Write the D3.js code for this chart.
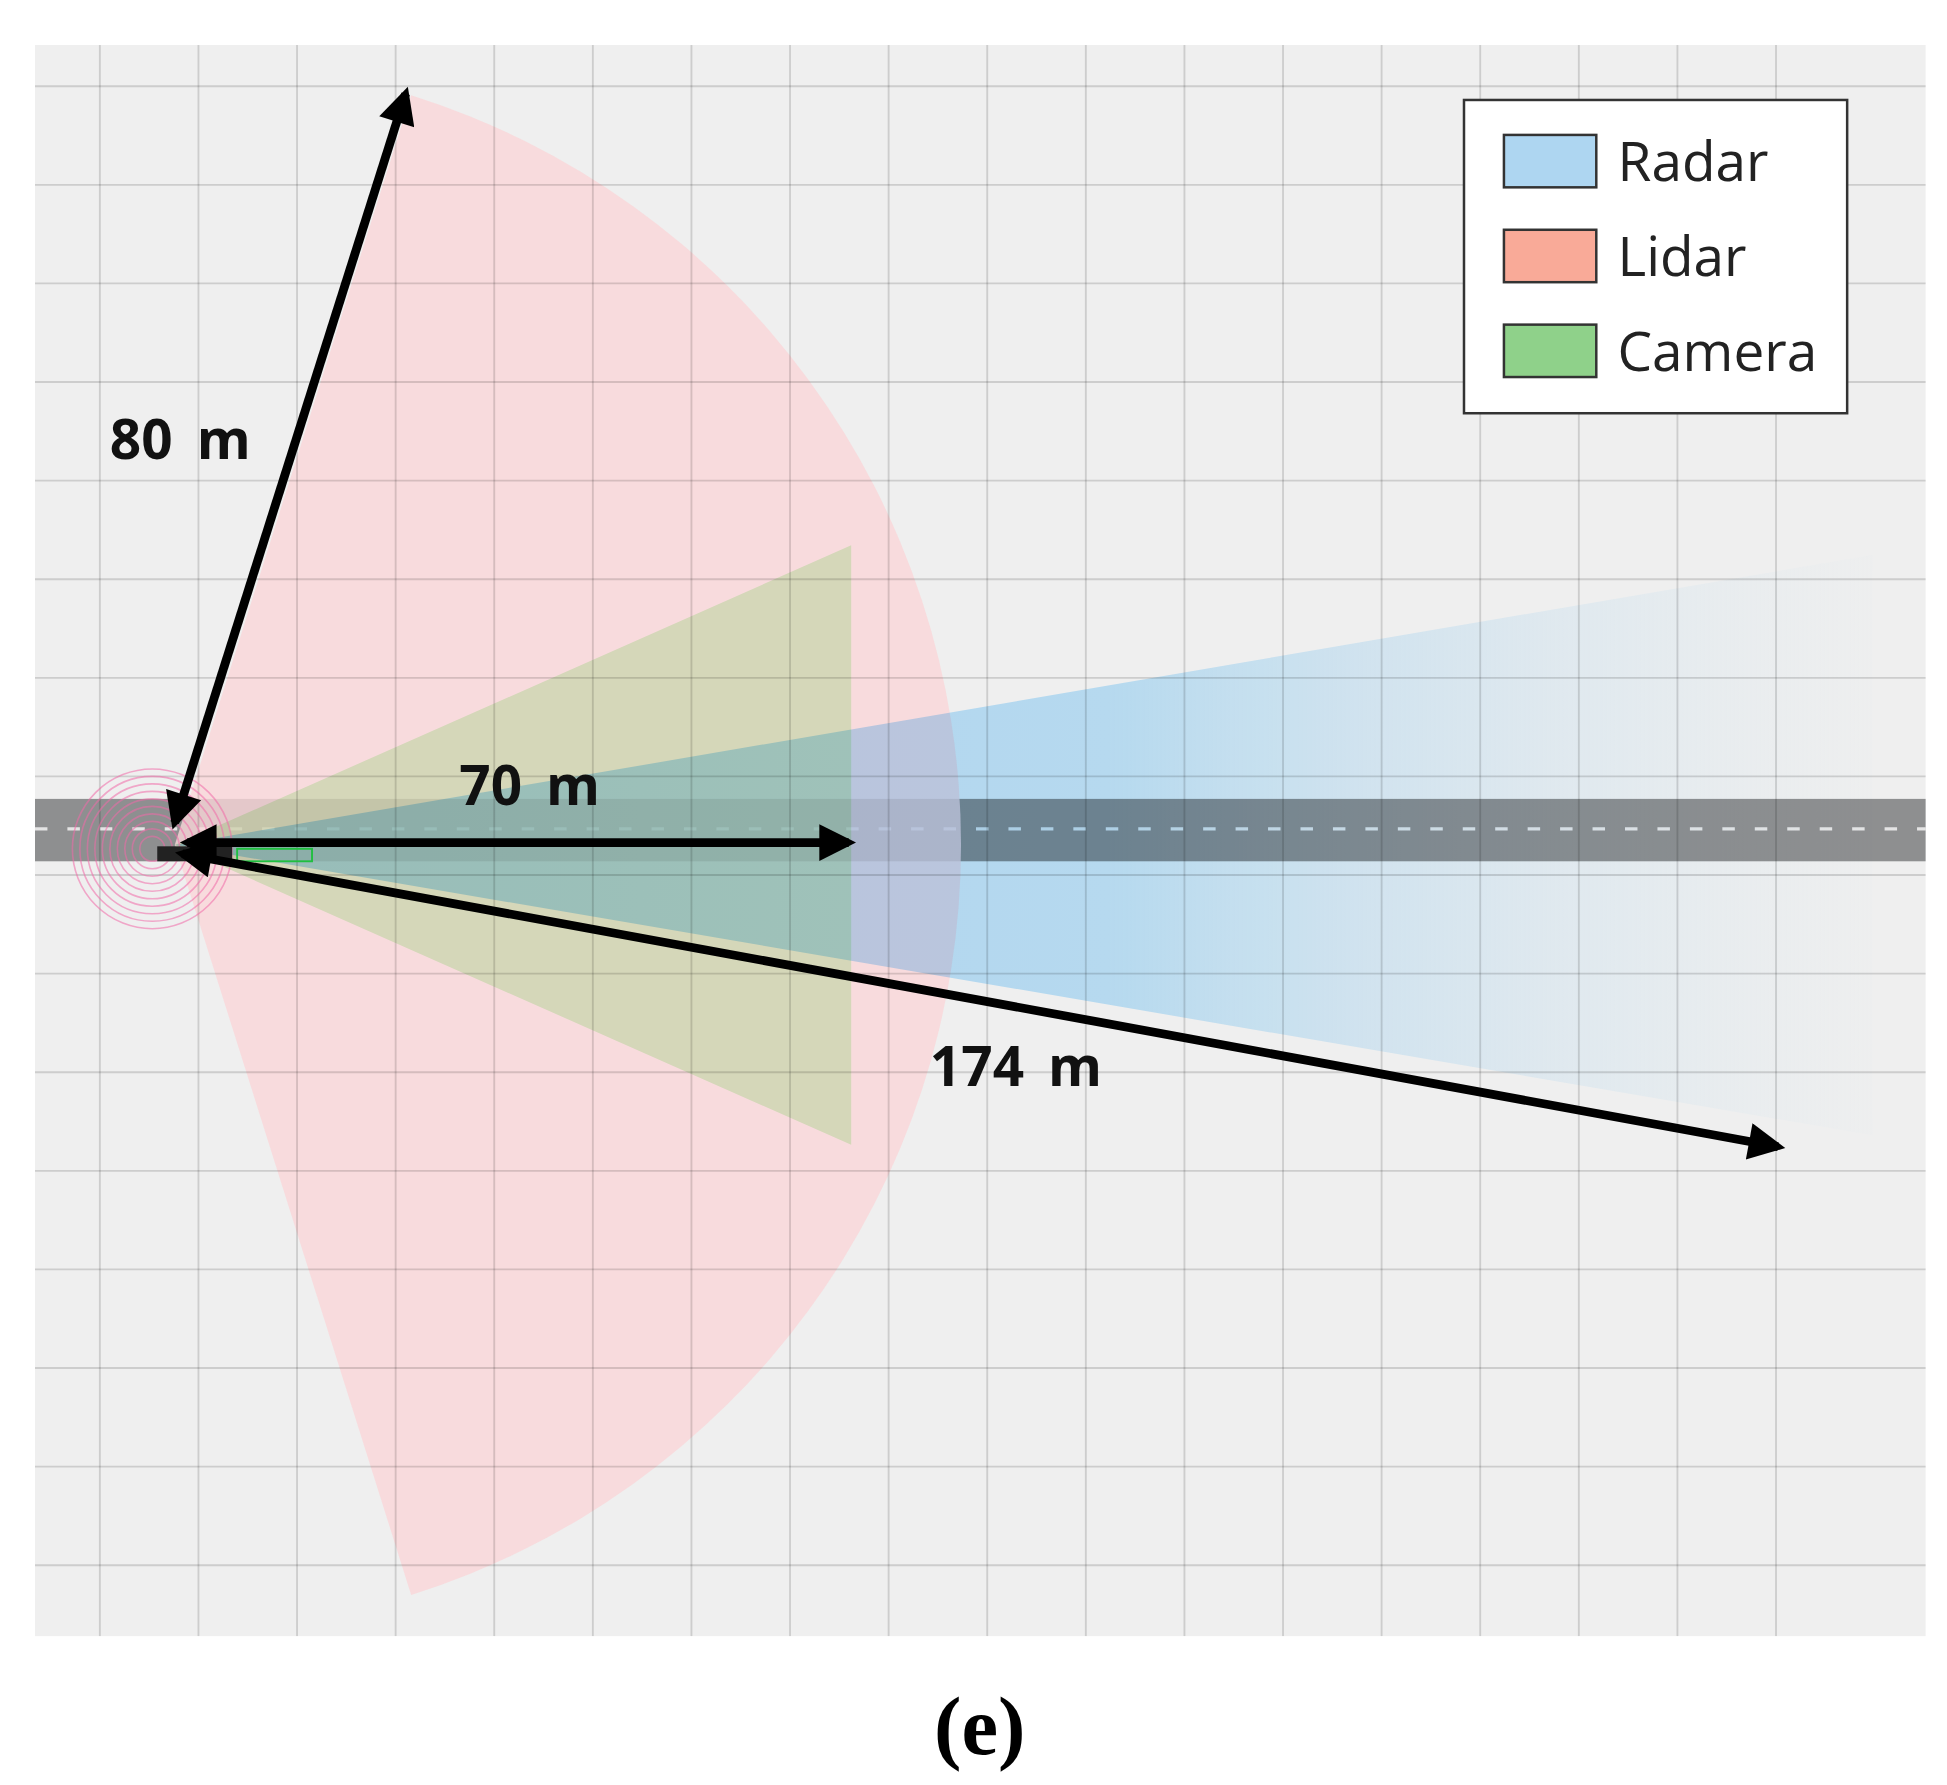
<!DOCTYPE html>
<html><head><meta charset="utf-8">
<script src="https://cdn.jsdelivr.net/npm/d3@7"></script>
<style>body{margin:0;background:#fff}</style>
</head><body>
<div id="chart"></div>
<script>
// sensor ranges (m) and half field of view (deg)
var sensors = ["Radar", "Lidar", "Camera"];
var colors = ["#aed6f1", "#f9aa98", "#8fd18a"];
var ranges = [174, 80, 70];
var halfFov = [9.7, 72.5, 23.9];
var labels = ["174 m", "80 m", "70 m"];
var arrowAngles = [-10.4, 72.9, 0];   // degrees, up positive

var W = 1560, H = 1430;
var svg = d3.select("#chart").append("svg")
  .attr("width", 1947).attr("height", 1785)
  .attr("viewBox", "0 0 " + W + " " + H);

var plot = {x0: 28, x1: 1543, y0: 36, y1: 1311};
var ox = 140, oy = 677;
var r = d3.scaleLinear().domain([0, 80]).range([0, 630]);

var defs = svg.append("defs");
var grad = defs.append("linearGradient").attr("id", "rg")
  .attr("gradientUnits", "userSpaceOnUse")
  .attr("x1", ox).attr("x2", 1500).attr("y1", 0).attr("y2", 0);
grad.append("stop").attr("offset", 0).attr("stop-color", "#b4e0ff").attr("stop-opacity", 1);
grad.append("stop").attr("offset", 0.55).attr("stop-color", "#c2e8ff").attr("stop-opacity", 1);
grad.append("stop").attr("offset", 1).attr("stop-color", "#fafdff").attr("stop-opacity", 0.3);
defs.append("clipPath").attr("id", "pc").append("rect")
  .attr("x", plot.x0).attr("y", plot.y0).attr("width", plot.x1 - plot.x0).attr("height", plot.y1 - plot.y0);
var mk = defs.append("marker").attr("id", "ah").attr("viewBox", "0 0 10 10")
  .attr("refX", 8).attr("refY", 5).attr("markerWidth", 5).attr("markerHeight", 4.2)
  .attr("orient", "auto-start-reverse").attr("markerUnits", "strokeWidth");
mk.append("path").attr("d", "M0,0L10,5L0,10z").attr("fill", "#000");

var g = svg.append("g").attr("clip-path", "url(#pc)").style("isolation", "isolate");
g.append("rect").attr("x", plot.x0).attr("y", plot.y0)
  .attr("width", plot.x1 - plot.x0).attr("height", plot.y1 - plot.y0).attr("fill", "#efefef");

// road
g.append("rect").attr("x", plot.x0).attr("y", 640).attr("width", plot.x1 - plot.x0).attr("height", 50).attr("fill", "#8e8f90");
g.append("line").attr("x1", plot.x0).attr("x2", plot.x1).attr("y1", 664).attr("y2", 664)
  .attr("stroke", "#e4e4e4").attr("stroke-width", 2.5).attr("stroke-dasharray", "10 16");

function rad(d) { return d * Math.PI / 180; }
// lidar sector
var lid = d3.arc().innerRadius(0).outerRadius(r(ranges[1]))
  .startAngle(rad(90 - halfFov[1])).endAngle(rad(90 + halfFov[1]));
g.append("path").attr("d", lid()).attr("transform", "translate(" + ox + "," + oy + ")")
  .attr("fill", "#fad6d8").attr("opacity", 0.8);
// camera triangle
var camL = 542, camH = camL * Math.tan(rad(halfFov[2]));
g.append("path").attr("d", d3.line()([[ox, oy], [ox + camL, oy - camH], [ox + camL, oy + camH]]))
  .attr("fill", "#dbfbd6").style("mix-blend-mode", "multiply");
// radar wedge
var radL = 1360;
g.append("path").attr("d", d3.line()([[ox, oy], [ox + radL, oy - radL * Math.tan(rad(halfFov[0]))], [ox + radL, oy + radL * Math.tan(rad(halfFov[0]))]]))
  .attr("fill", "url(#rg)").style("mix-blend-mode", "multiply");

// grid on top
var gx = d3.range(80, 1502, 79), gy = d3.range(69, 1300, 79);
g.selectAll(".vx").data(gx).enter().append("line")
  .attr("x1", d => d).attr("x2", d => d).attr("y1", plot.y0).attr("y2", plot.y1)
  .attr("stroke", "#000").attr("stroke-opacity", 0.14).attr("stroke-width", 1.5);
g.selectAll(".hy").data(gy).enter().append("line")
  .attr("y1", d => d).attr("y2", d => d).attr("x1", plot.x0).attr("x2", plot.x1)
  .attr("stroke", "#000").attr("stroke-opacity", 0.14).attr("stroke-width", 1.5);

// lidar rings
g.selectAll(".ring").data(d3.range(10, 70, 6)).enter().append("circle")
  .attr("cx", 122).attr("cy", 680).attr("r", d => d)
  .attr("fill", "none").attr("stroke", "#f06aa8").attr("stroke-opacity", 0.55).attr("stroke-width", 1.3);
g.append("rect").attr("x", 126).attr("y", 678).attr("width", 60).attr("height", 12).attr("fill", "#222");
g.append("rect").attr("x", 190).attr("y", 680).attr("width", 60).attr("height", 10).attr("fill", "none").attr("stroke", "#1fbf3f").attr("stroke-width", 1.5);

// arrows
var starts = [[146, 684], [140, 659], [150, 675]];
arrowAngles.forEach(function (a, i) {
  var L = i === 0 ? 1300 : r(ranges[i]);
  var s = starts[i];
  var ex = s[0] + L * Math.cos(rad(a)), ey = s[1] - L * Math.sin(rad(a));
  if (i === 1) { ex = 325; ey = 75; }
  if (i === 2) { ex = 680; }
  svg.append("line").attr("x1", s[0]).attr("y1", s[1]).attr("x2", ex).attr("y2", ey)
    .attr("stroke", "#000").attr("stroke-width", 7)
    .attr("marker-start", "url(#ah)").attr("marker-end", "url(#ah)");
});

var lab = [[745, 870], [88, 368], [368, 645]];
labels.forEach(function (t, i) {
  svg.append("text").attr("x", lab[i][0]).attr("y", lab[i][1]).text(t)
    .attr("font-family", "Noto Sans, DejaVu Sans, sans-serif").attr("font-weight", "bold")
    .attr("font-size", 44).attr("word-spacing", 8).attr("fill", "#111");
});

// legend
var lg = svg.append("g");
lg.append("rect").attr("x", 1173).attr("y", 80).attr("width", 307).attr("height", 251)
  .attr("fill", "#fff").attr("stroke", "#333").attr("stroke-width", 2);
sensors.forEach(function (s, i) {
  var y = 108 + i * 76;
  lg.append("rect").attr("x", 1205).attr("y", y).attr("width", 74).attr("height", 42)
    .attr("fill", colors[i]).attr("stroke", "#333").attr("stroke-width", 2);
  lg.append("text").attr("x", 1296).attr("y", y + 37).text(s)
    .attr("font-family", "Open Sans, Noto Sans, sans-serif").attr("font-size", 44).attr("fill", "#222");
});

svg.append("text").attr("x", 785).attr("y", 1405).attr("text-anchor", "middle").text("(e)")
  .attr("font-family", "Liberation Serif, DejaVu Serif, serif").attr("font-weight", "bold")
  .attr("font-size", 66).attr("fill", "#000");
</script>
</body></html>
